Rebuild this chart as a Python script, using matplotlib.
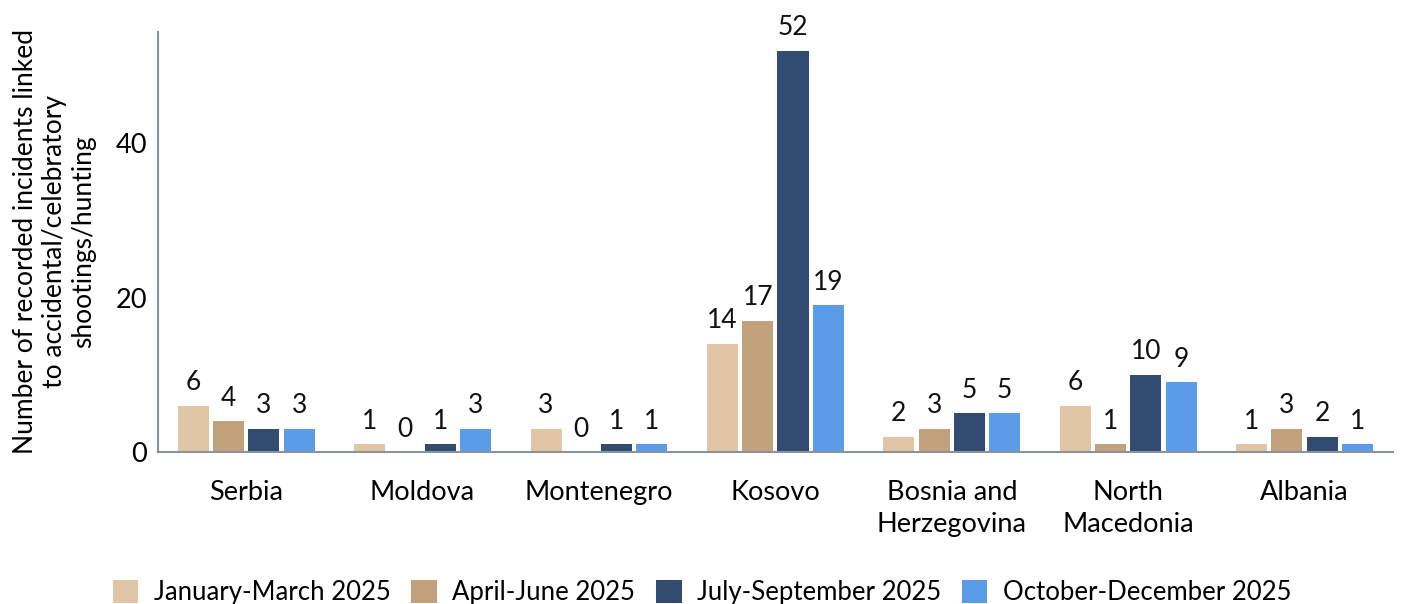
import matplotlib
matplotlib.use("Agg")
import matplotlib.pyplot as plt
import numpy as np

plt.rcParams['font.family'] = ['Lato', 'DejaVu Sans']

countries = ["Serbia", "Moldova", "Montenegro", "Kosovo", "Bosnia and\nHerzegovina", "North\nMacedonia", "Albania"]
series_names = ["January-March 2025", "April-June 2025", "July-September 2025", "October-December 2025"]
jan_mar = [6, 1, 3, 14, 2, 6, 1]
apr_jun = [4, 0, 0, 17, 3, 1, 3]
jul_sep = [3, 1, 1, 52, 5, 10, 2]
oct_dec = [3, 3, 1, 19, 5, 9, 1]
colors = ["#E0C6A5", "#C2A17D", "#324B70", "#5B9CE8"]
yticks = [0, 20, 40]
ylabel = "Number of recorded incidents linked\nto accidental/celebratory\nshootings/hunting"

fig = plt.figure(figsize=(14.04, 6.04), dpi=100)
ax = fig.add_axes([0.1125, 0.2517, 0.8795, 0.6953])

x = np.arange(len(countries))
step = 0.2
width = 0.176
all_series = [jan_mar, apr_jun, jul_sep, oct_dec]
for i, (vals, col, name) in enumerate(zip(all_series, colors, series_names)):
    pos = x + (i - 1.5) * step
    bars = ax.bar(pos, vals, width=width, color=col, label=name)
    for b, v in zip(bars, vals):
        ax.annotate(str(v), (b.get_x() + b.get_width() / 2, v), xytext=(0, 7.5),
                    textcoords="offset points", ha="center", va="bottom",
                    fontsize=19, color="#111111")

ax.set_xlim(-0.5, len(countries) - 0.5)
ax.set_ylim(0, 54.4)
ax.set_yticks(yticks)
ax.set_xticks(x)
ax.set_xticklabels(countries, fontsize=19.5, linespacing=1.35)
ax.tick_params(axis='y', length=0, labelsize=19.5, pad=8)
ax.tick_params(axis='x', length=0, pad=20)
for s in ["top", "right"]:
    ax.spines[s].set_visible(False)
for s in ["left", "bottom"]:
    ax.spines[s].set_color("#8A929C")
    ax.spines[s].set_linewidth(1.5)

ax.set_ylabel(ylabel, fontsize=19, linespacing=1.2, labelpad=14)

fig.legend(loc="lower center", ncol=4, frameon=False, fontsize=18.5,
           bbox_to_anchor=(0.5, -0.04), handlelength=1.0, handleheight=1.0,
           handletextpad=0.6, columnspacing=0.8)

fig.savefig("out.png", dpi=100)
